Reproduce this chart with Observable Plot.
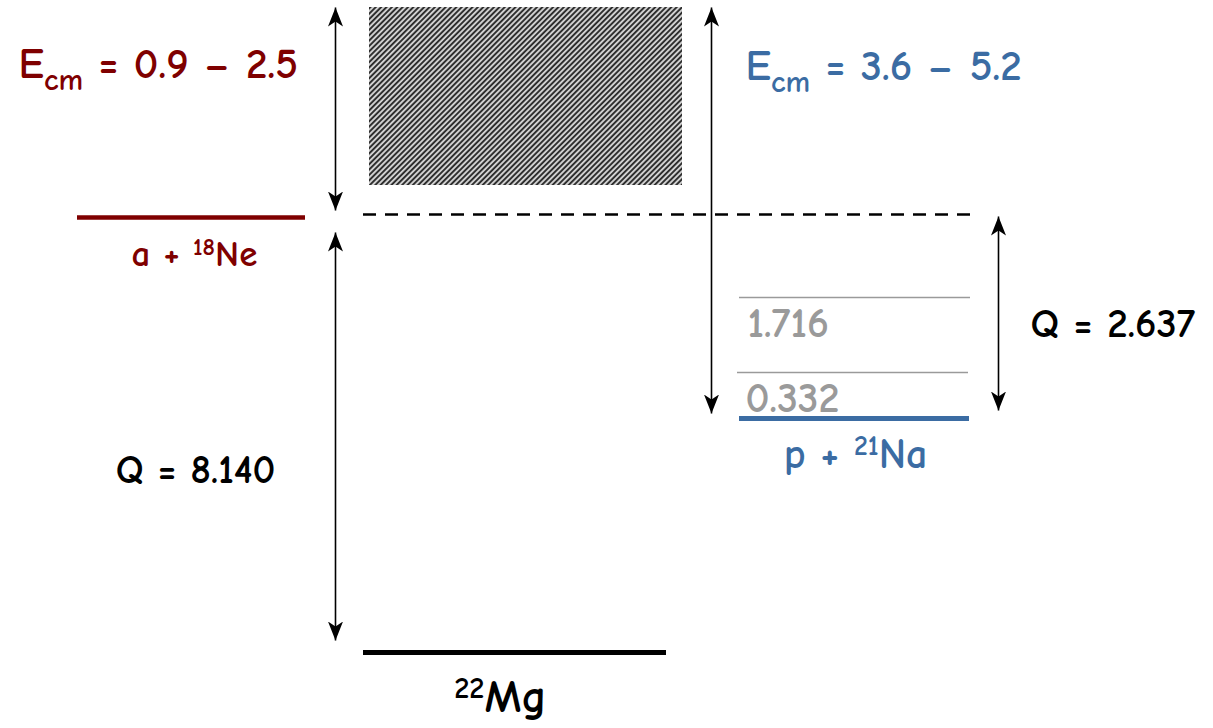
<!DOCTYPE html>
<html><head><meta charset="utf-8">
<script src="https://cdn.jsdelivr.net/npm/d3@7"></script>
<script src="https://cdn.jsdelivr.net/npm/@observablehq/plot@0.6"></script>
<style>body{margin:0;background:#fff;overflow:hidden}</style>
</head><body><div id="chart"></div>
<script>
// Schematic energy-level diagram for 22Mg (diagram units, 22Mg ground state = 0)
const levelNames  = ["22Mg", "a+18Ne", "p+21Na", "0.332", "1.716", "threshold"];
const levelHeight = [0, 435, 234, 280, 355, 438];
const levelFrom   = [363, 77, 739, 737, 739, 363];
const levelTo     = [666, 305, 969, 968, 970, 970];

// Double-headed arrows (span in diagram units)
const arrowNames = ["Ecm alpha", "Q alpha", "Ecm proton", "Q proton"];
const arrowAt    = [335, 335, 711, 998];
const arrowLow   = [442, 12, 239, 242];
const arrowHigh  = [645, 420, 645, 436];

// Energy window (hatched)
const windowLow = 467, windowHigh = 645, windowFrom = 369, windowTo = 682;

// Text labels
const labelText = ["E_{cm} = 0.9 – 2.5", "a + ^{18}Ne", "Q = 8.140", "E_{cm} = 3.6 – 5.2",
                   "1.716", "0.332", "p + ^{21}Na", "Q = 2.637", "^{22}Mg"];
const labelX = [18, 194, 195, 745, 747, 745, 855, 1030, 500];
const labelY = [588, 398, 182, 586, 329, 254, 198, 329, -45];
const labelGroup = ["red", "red", "black", "blue", "gray", "gray", "blue", "black", "black"];
const labelSize = [43, 37, 40, 43, 42, 42, 42, 41, 46];
const labelAnchor = ["start", "middle", "middle", "start", "start", "start", "middle", "start", "middle"];

const RED = "#7f0000", BLUE = "#3b6ca3", GRAY = "#9a9a9a";
const FONT = "'Comic Sans MS', 'Comic Neue', 'Open Sans', sans-serif";

const levels = levelNames.map((name, i) => ({name, e: levelHeight[i], x1: levelFrom[i], x2: levelTo[i]}));
const arrows = arrowNames.map((name, i) => ({name, x: arrowAt[i], y1: arrowLow[i], y2: arrowHigh[i]}));
const labels = labelText.map((text, i) => ({text, x: labelX[i], y: labelY[i], group: labelGroup[i], size: labelSize[i], anchor: labelAnchor[i]}));
const lv = n => levels.filter(d => d.name === n);

const textMarks = [];
const colorOf = {red: RED, blue: BLUE, gray: GRAY, black: "#000"};
for (const l of labels) {
  textMarks.push(Plot.text([l], {x: "x", y: "y", text: "text", fill: colorOf[l.group],
    fontSize: l.size, textAnchor: l.anchor, fontFamily: FONT, fontWeight: 700}));
}

const chart = Plot.plot({
  width: 1213, height: 728, margin: 0,
  x: {domain: [0, 1213], axis: null},
  y: {domain: [-76, 652], axis: null},
  style: {background: "#fff"},
  marks: [
    Plot.rect([{x1: windowFrom, x2: windowTo, y1: windowLow, y2: windowHigh}],
      {x1: "x1", x2: "x2", y1: "y1", y2: "y2", fill: "url(#hatch)"}),
    Plot.ruleY(lv("threshold"), {y: "e", x1: "x1", x2: "x2", stroke: "#000", strokeWidth: 2.6, strokeDasharray: "13,9"}),
    Plot.ruleY(lv("a+18Ne"), {y: "e", x1: "x1", x2: "x2", stroke: RED, strokeWidth: 4.5}),
    Plot.ruleY(lv("22Mg"), {y: "e", x1: "x1", x2: "x2", stroke: "#000", strokeWidth: 5}),
    Plot.ruleY(lv("p+21Na"), {y: "e", x1: "x1", x2: "x2", stroke: BLUE, strokeWidth: 5}),
    Plot.ruleY([...lv("0.332"), ...lv("1.716")], {y: "e", x1: "x1", x2: "x2", stroke: GRAY, strokeWidth: 1.6}),
    Plot.link(arrows, {x1: "x", x2: "x", y1: "y1", y2: "y2", stroke: "#000", strokeWidth: 1.6}),
    ...textMarks
  ]
});

document.getElementById("chart").append(chart);
const svg = d3.select(chart);
const defs = svg.insert("defs", ":first-child");
const pat = defs.append("pattern").attr("id", "hatch").attr("patternUnits", "userSpaceOnUse")
  .attr("width", 3.8).attr("height", 3.8).attr("patternTransform", "rotate(45)");
pat.append("rect").attr("width", 3.8).attr("height", 3.8).attr("fill", "#d0d0d0");
pat.append("rect").attr("width", 1.9).attr("height", 3.8).attr("fill", "#2e2e2e");
defs.append("marker").attr("id", "ah").attr("viewBox", "0 -8 20 16").attr("refX", 19).attr("refY", 0)
  .attr("markerWidth", 20).attr("markerHeight", 16).attr("markerUnits", "userSpaceOnUse")
  .attr("orient", "auto-start-reverse")
  .append("path").attr("d", "M0,-7.5 L19,0 L0,7.5 L5,0 Z").attr("fill", "#000");
svg.selectAll('g[aria-label="link"] path').attr("marker-start", "url(#ah)").attr("marker-end", "url(#ah)");

// Rich text: ^{..} superscript, _{..} subscript
svg.selectAll("text").each(function () {
  const t = this.textContent;
  if (!/[\^_]\{/.test(t)) return;
  const fs = parseFloat(getComputedStyle(this).fontSize) || 30;
  const parts = [];
  const re = /([\^_])\{([^}]*)\}/g;
  let last = 0, m;
  while ((m = re.exec(t))) {
    if (m.index > last) parts.push({s: t.slice(last, m.index), k: ""});
    parts.push({s: m[2], k: m[1]});
    last = re.lastIndex;
  }
  if (last < t.length) parts.push({s: t.slice(last), k: ""});
  const el = d3.select(this);
  el.text(null);
  let shift = 0;
  for (const p of parts) {
    const target = p.k === "^" ? -0.3 * fs : p.k === "_" ? 0.28 * fs : 0;
    const ts = el.append("tspan").text(p.s).attr("dy", target - shift);
    if (p.k === "^") ts.attr("font-size", 0.66 * fs);
    if (p.k === "_") ts.attr("font-size", 0.72 * fs);
    shift = target;
  }
});
</script>
</body></html>
